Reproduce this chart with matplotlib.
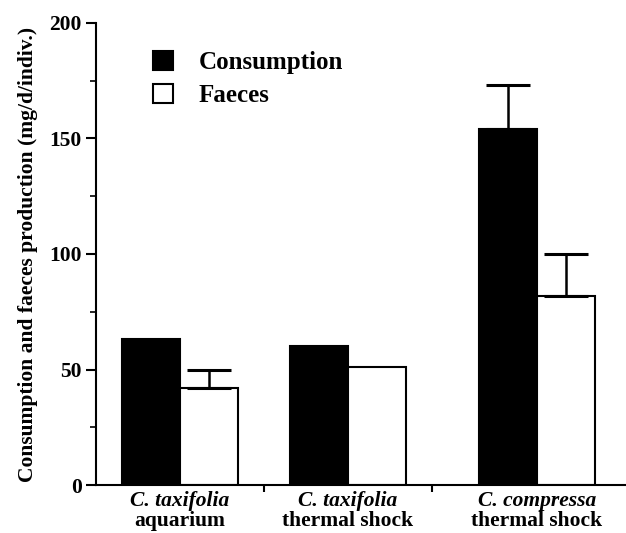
import matplotlib
matplotlib.use("Agg")
import matplotlib.pyplot as plt
from matplotlib.ticker import MultipleLocator
from matplotlib.transforms import blended_transform_factory
from matplotlib.patches import Patch

# data
species = ["C. taxifolia", "C. taxifolia", "C. compressa"]
conditions = ["aquarium", "thermal shock", "thermal shock"]
consumption = [63, 60, 154]
consumption_err = [0, 0, 19]
faeces = [42, 51, 82]
faeces_err = [8, 0, 18]

plt.rcParams['font.family'] = ['Liberation Serif', 'DejaVu Serif']

fig = plt.figure(figsize=(6.26, 5.33), dpi=100)
ax = fig.add_axes([0.153, 0.09, 0.847, 0.867])

centers = [0, 1, 2.125]
w = 0.345

for i, c in enumerate(centers):
    ax.bar(c - w / 2, consumption[i], w, color='black', edgecolor='black', linewidth=1.5, zorder=2)
    ax.bar(c + w / 2, faeces[i], w, color='white', edgecolor='black', linewidth=1.5, zorder=2)
    if consumption_err[i] > 0:
        ax.errorbar(c - w / 2, consumption[i], yerr=[[0], [consumption_err[i]]], fmt='none',
                    ecolor='black', elinewidth=1.8, capsize=16, capthick=2.2, zorder=3)
    if faeces_err[i] > 0:
        ax.errorbar(c + w / 2, faeces[i], yerr=[[0], [faeces_err[i]]], fmt='none',
                    ecolor='black', elinewidth=1.8, capsize=16, capthick=2.2, zorder=3)

ax.set_xlim(-0.5, 2.655)
ax.set_ylim(0, 200)

ax.spines['top'].set_visible(False)
ax.spines['right'].set_visible(False)
ax.spines['left'].set_linewidth(1.5)
ax.spines['bottom'].set_linewidth(1.5)

ax.yaxis.set_major_locator(MultipleLocator(50))
ax.yaxis.set_minor_locator(MultipleLocator(25))
ax.tick_params(axis='y', which='major', length=7, width=1.5, direction='out', labelsize=15.5, pad=3)
ax.tick_params(axis='y', which='minor', length=4, width=1.2, direction='out')
for lab in ax.get_yticklabels():
    lab.set_fontweight('bold')

ax.set_xticks([0.5, 1.5])
ax.set_xticklabels([])
ax.tick_params(axis='x', length=5, width=1.5, direction='out')

trans = blended_transform_factory(ax.transData, ax.transAxes)
for i, c in enumerate(centers):
    ax.text(c, -0.013, species[i], transform=trans, ha='center', va='top',
            fontsize=15.5, fontweight='bold', fontstyle='italic')
    ax.text(c, -0.057, conditions[i], transform=trans, ha='center', va='top',
            fontsize=15.5, fontweight='bold')

ax.set_ylabel("Consumption and faeces production (mg/d/indiv.)", fontsize=15.5,
              fontweight='bold', labelpad=8)

handles = [Patch(facecolor='black', edgecolor='black', linewidth=1.5),
           Patch(facecolor='white', edgecolor='black', linewidth=1.5)]
ax.legend(handles, ["Consumption", "Faeces"], loc='upper left', bbox_to_anchor=(0.066, 0.988),
          frameon=False, handlelength=0.8, handleheight=0.8, handletextpad=1.0,
          labelspacing=0.4, prop={'weight': 'bold', 'size': 18})

fig.savefig("out.png", dpi=100)
